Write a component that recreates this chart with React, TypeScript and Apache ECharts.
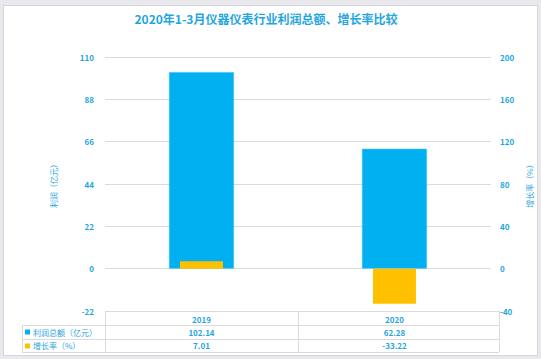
import React, { useEffect, useRef } from "react";
import * as echarts from "echarts";

const chartTitle = "2020年1-3月仪器仪表行业利润总额、增长率比较";
const categories = ["2019", "2020"];
const profitName = "利润总额（亿元）";
const growthName = "增长率（%）";
const profit = [102.14, 62.28];
const growth = [7.01, -33.22];
const leftAxisName = "利润（亿元）";
const rightAxisName = "增长率（%）";

export default function App() {
  const ref = useRef<HTMLDivElement>(null);
  useEffect(() => {
    const chart = echarts.init(ref.current!, null, { renderer: "svg" });
    const blue = "#00b0f0";
    const yellow = "#ffc000";
    const txt = "#1fa6e0";
    const grey = "#dadada";
    const font = "'Noto Sans CJK SC', 'Noto Sans', sans-serif";
    const plotL = 105;
    const plotR = 499;
    const plotT = 57;
    const plotB = 311;
    chart.setOption({
      animation: false,
      textStyle: { fontFamily: font },
      grid: { left: plotL, right: 541 - plotR, top: plotT, bottom: 359 - plotB },
      xAxis: [
        {
          type: "category",
          data: categories,
          axisLine: { show: false },
          axisTick: { show: false },
          axisLabel: { color: txt, fontSize: 8, fontWeight: "bold", margin: 4, fontFamily: font },
        },
        { type: "category", data: categories, show: false },
      ],
      yAxis: [
        {
          type: "value",
          min: -22,
          max: 110,
          interval: 22,
          name: leftAxisName,
          nameLocation: "middle",
          nameGap: 48,
          nameRotate: 90,
          nameTextStyle: { color: txt, fontSize: 8, fontFamily: font },
          axisLine: { show: false },
          axisTick: { show: false },
          axisLabel: { color: txt, fontSize: 8, fontWeight: "bold", margin: 11, fontFamily: font },
          splitLine: { show: true, lineStyle: { color: grey, width: 1 } },
        },
        {
          type: "value",
          min: -40,
          max: 200,
          interval: 40,
          position: "right",
          name: rightAxisName,
          nameLocation: "middle",
          nameGap: 31,
          nameRotate: 90,
          nameTextStyle: { color: txt, fontSize: 8, fontFamily: font },
          axisLine: { show: false },
          axisTick: { show: false },
          axisLabel: { color: txt, fontSize: 8, fontWeight: "bold", margin: 9, fontFamily: font },
          splitLine: { show: false },
        },
      ],
      series: [
        {
          name: profitName,
          type: "bar",
          xAxisIndex: 0,
          yAxisIndex: 0,
          data: profit,
          barWidth: 65,
          itemStyle: { color: blue, borderColor: "#3cc3f4", borderWidth: 0.6 },
          z: 2,
        },
        {
          name: growthName,
          type: "bar",
          xAxisIndex: 1,
          yAxisIndex: 1,
          data: growth,
          barWidth: 43,
          itemStyle: { color: yellow },
          z: 3,
        },
      ],
    });

    const xs = categories.map((c) => chart.convertToPixel({ xAxisIndex: 0 }, c) as number);
    const mid = (xs[0] + xs[1]) / 2;
    const tblL = 22;
    const rows = [311, 325, 339, 352];
    const hl = (x1: number, x2: number, y: number) => ({
      type: "line",
      shape: { x1, y1: y + 0.5, x2, y2: y + 0.5 },
      style: { stroke: grey, lineWidth: 1 },
      silent: true,
    });
    const vl = (x: number, y1: number, y2: number) => ({
      type: "line",
      shape: { x1: x + 0.5, y1, x2: x + 0.5, y2 },
      style: { stroke: grey, lineWidth: 1 },
      silent: true,
    });
    const t = (text: string, x: number, y: number, align: string, weight: string) => ({
      type: "text",
      x,
      y,
      silent: true,
      style: {
        text,
        fill: txt,
        font: `${weight} 8px ${font}`,
        textAlign: align,
        textVerticalAlign: "middle",
        align,
        verticalAlign: "middle",
      },
    });
    const graphics: any[] = [
      {
        type: "text",
        x: 266,
        y: 18,
        silent: true,
        style: {
          text: chartTitle,
          fill: txt,
          font: `bold 12px ${font}`,
          textAlign: "center",
          textVerticalAlign: "middle",
          align: "center",
          verticalAlign: "middle",
        },
      },
      hl(plotL, plotR, rows[0]),
      hl(tblL, plotR, rows[1]),
      hl(tblL, plotR, rows[2]),
      hl(tblL, plotR, rows[3]),
      vl(tblL, rows[1], rows[3]),
      vl(plotL, rows[0], rows[3]),
      vl(mid, rows[0], rows[3]),
      vl(plotR, rows[0], rows[3]),
      { type: "rect", shape: { x: 25, y: 329.5, width: 5, height: 5 }, style: { fill: blue }, silent: true },
      { type: "rect", shape: { x: 25, y: 343.5, width: 5, height: 5 }, style: { fill: yellow }, silent: true },
      t(profitName, 33, 332, "left", "normal"),
      t(growthName, 33, 345.5, "left", "normal"),
    ];
    xs.forEach((x, i) => {
      graphics.push(t(profit[i].toFixed(2), x, 332, "center", "bold"));
      graphics.push(t(growth[i].toFixed(2), x, 345.5, "center", "bold"));
    });
    chart.setOption({ graphic: graphics });
    return () => chart.dispose();
  }, []);

  return (
    <div
      style={{
        position: "fixed",
        left: 0,
        top: 0,
        width: 541,
        height: 359,
        background: "#e9e9ed",
        overflow: "hidden",
      }}
    >
      <div
        style={{
          position: "absolute",
          left: 3,
          top: 5,
          width: 533,
          height: 349,
          background: "#ffffff",
          border: "1px solid #d6d6da",
        }}
      />
      <div ref={ref} style={{ position: "absolute", left: 0, top: 0, width: 541, height: 359 }} />
    </div>
  );
}
